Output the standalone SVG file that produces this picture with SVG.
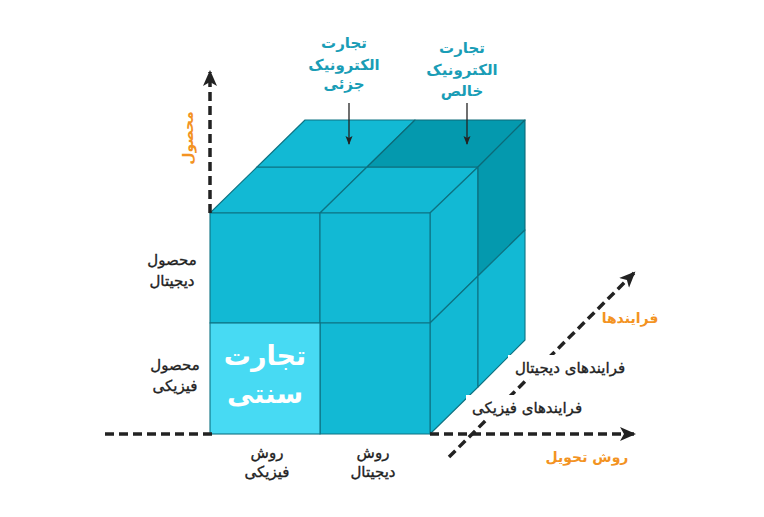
<svg xmlns="http://www.w3.org/2000/svg" width="764" height="517" viewBox="0 0 764 517">
<style>
.c{fill:#12b9d4;stroke:#0d7282;stroke-width:1.1;stroke-linejoin:round}
.d{fill:#0499ae;stroke:#0d6a78;stroke-width:1.1;stroke-linejoin:round}
.l{fill:#47daf3;stroke:#0d7282;stroke-width:1.1}
.ax{fill:none;stroke:#222;stroke-width:3.5;stroke-dasharray:9 5}
.pt{fill:none;stroke:#222;stroke-width:1.3}
text{font-family:"DejaVu Sans",sans-serif;text-anchor:middle;direction:rtl}
.k{fill:#222;font-size:15px;stroke:#222;stroke-width:0.35}
.o{fill:#f39322;font-size:14px;font-weight:bold}
.t{fill:#1a9db6;font-size:15px;font-weight:bold}
.w{fill:#fff;font-size:27px;font-weight:bold}
</style>
<defs>
<marker id="ah" markerUnits="userSpaceOnUse" markerWidth="18" markerHeight="16" refX="14" refY="8" orient="auto" viewBox="0 0 18 16">
<path d="M0,1 L16,8 L0,15 L4,8 Z" fill="#222"/>
</marker>
<marker id="as" markerUnits="userSpaceOnUse" markerWidth="10" markerHeight="8" refX="8" refY="4" orient="auto" viewBox="0 0 10 8">
<path d="M0,0.5 L9,4 L0,7.5 L2,4 Z" fill="#222"/>
</marker>
</defs>
<g id="cube">
<polygon class="c" points="210,213 320,213 367,167 257,167"/>
<polygon class="c" points="320,213 430,213 478,167 367,167"/>
<polygon class="c" points="257,167 367,167 415,120 305,120"/>
<polygon class="d" points="367,167 478,167 525,120 415,120"/>
<polygon class="c" points="430,213 478,167 478,276 430,323"/>
<polygon class="d" points="478,167 525,120 525,230 478,276"/>
<polygon class="c" points="430,323 478,276 478,387 430,434"/>
<polygon class="c" points="478,276 525,230 525,340 478,387"/>
<rect class="c" x="210" y="213" width="110" height="110"/>
<rect class="c" x="320" y="213" width="110" height="110"/>
<rect class="c" x="320" y="323" width="110" height="111"/>
<rect id="traditional" class="l" x="210" y="323" width="110" height="111"/>
</g>
<g id="connectors">
<line class="ax" x1="210" y1="213" x2="210" y2="72" marker-end="url(#ah)"/>
<line class="ax" x1="105" y1="434" x2="212" y2="434"/>
<line class="ax" x1="430" y1="434" x2="634" y2="434" marker-end="url(#ah)"/>
<line class="ax" x1="449" y1="457" x2="634" y2="273" marker-end="url(#ah)"/>
<line class="pt" x1="349" y1="103" x2="349" y2="144" marker-end="url(#as)"/>
<line class="pt" x1="467" y1="103" x2="467" y2="144" marker-end="url(#as)"/>
</g>
<g id="labels">
<text class="w" x="265" y="365">تجارت</text>
<text class="w" x="265" y="403">سنتی</text>
<text class="t" x="344" y="48">تجارت</text>
<text class="t" x="344" y="70">الکترونیک</text>
<text class="t" x="344" y="89">جزئی</text>
<text class="t" x="462" y="53">تجارت</text>
<text class="t" x="462" y="75">الکترونیک</text>
<text class="t" x="462" y="96">خالص</text>
<text class="o" transform="translate(193,138) rotate(-90)">محصول</text>
<text class="k" x="172" y="265">محصول</text>
<text class="k" x="172" y="286">دیجیتال</text>
<text class="k" x="175" y="370">محصول</text>
<text class="k" x="175" y="391">فیزیکی</text>
<text class="k" x="267" y="458">روش</text>
<text class="k" x="267" y="477">فیزیکی</text>
<text class="k" x="373" y="458">روش</text>
<text class="k" x="373" y="477">دیجیتال</text>
<rect x="508" y="355" width="126" height="24" fill="#fff"/>
<text class="k" x="570" y="373">فرایندهای دیجیتال</text>
<rect x="466" y="395" width="122" height="24" fill="#fff"/>
<text class="k" x="527" y="413">فرایندهای فیزیکی</text>
<text class="o" x="630" y="323">فرایندها</text>
<text class="o" x="587" y="462">روش تحویل</text>
</g>
</svg>
